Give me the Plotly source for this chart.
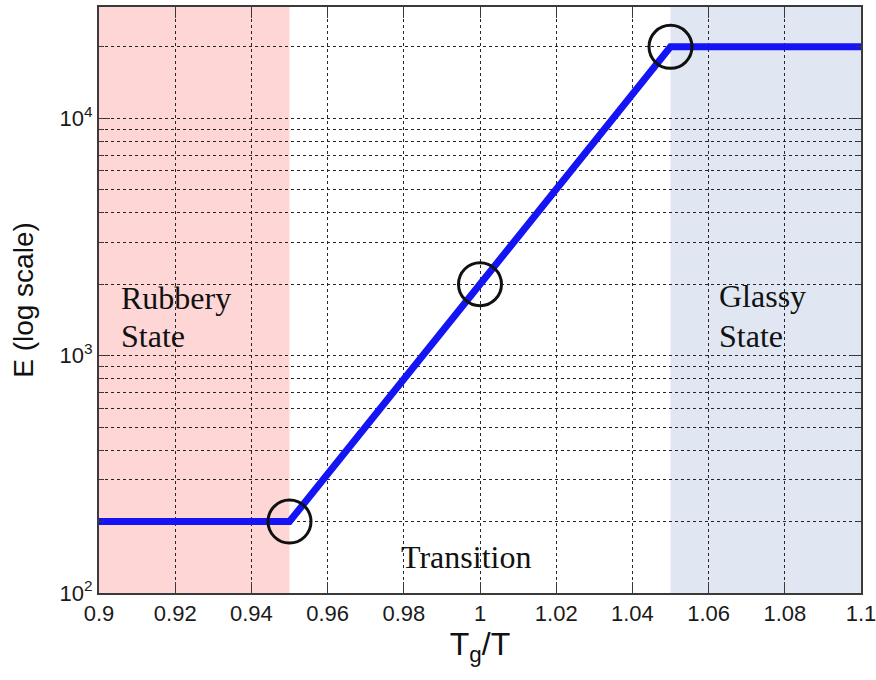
import plotly.graph_objects as go

# Modulus vs. normalised temperature (piecewise: rubbery plateau, transition, glassy plateau)
tg_over_t = [0.90, 0.95, 1.00, 1.05, 1.10]
modulus = [200, 200, 2000, 20000, 20000]

# Highlighted points on the curve
pt_x = [0.95, 1.00, 1.05]
pt_y = [200, 2000, 20000]

# Shaded regions (x-start, x-end, fill colour)
region_bounds = [(0.90, 0.95), (1.05, 1.10)]
region_colors = ["#FFD6D6", "#E0E7F3"]

x_ticks = [0.90, 0.92, 0.94, 0.96, 0.98, 1.00, 1.02, 1.04, 1.06, 1.08, 1.10]
x_tick_text = ["0.9", "0.92", "0.94", "0.96", "0.98", "1", "1.02", "1.04", "1.06", "1.08", "1.1"]
y_ticks = [100, 1000, 10000]
y_tick_text = ["10<sup>2</sup>", "10<sup>3</sup>", "10<sup>4</sup>"]
y_minor = [m * 10 ** d for d in (2, 3, 4) for m in range(2, 10) if m * 10 ** d <= 20000]

grid_col = "#262626"
axis_col = "#3a3a3a"

fig = go.Figure()

fig.add_trace(go.Scatter(
    x=tg_over_t, y=modulus, mode="lines",
    line=dict(color="#1414F5", width=7),
    showlegend=False, hoverinfo="skip",
))
fig.add_trace(go.Scatter(
    x=pt_x, y=pt_y, mode="markers",
    marker=dict(symbol="circle-open", size=43, color="#111111",
                line=dict(width=3, color="#111111")),
    showlegend=False, hoverinfo="skip",
))

for (x0, x1), col in zip(region_bounds, region_colors):
    fig.add_shape(type="rect", xref="x", yref="paper", x0=x0, x1=x1, y0=0, y1=1,
                  fillcolor=col, line_width=0, layer="below")

serif = dict(family="Liberation Serif, Times New Roman, serif", size=32, color="#111111")
labels = [
    ("Rubbery", 0.026, 0.503, "left"),
    ("State", 0.026, 0.438, "left"),
    ("Glassy", 0.811, 0.506, "left"),
    ("State", 0.811, 0.438, "left"),
    ("Transition", 0.482, 0.061, "center"),
]
for txt, px, py, anc in labels:
    fig.add_annotation(text=txt, xref="paper", yref="paper", x=px, y=py,
                       xanchor=anc, yanchor="middle", showarrow=False, font=serif)

sans = "Liberation Sans, Arial, sans-serif"
fig.update_layout(
    width=876, height=680,
    margin=dict(l=99, r=15, t=7, b=87),
    paper_bgcolor="white", plot_bgcolor="white",
    font=dict(family=sans, color="#111111"),
    xaxis=dict(
        range=[0.9, 1.1], tickvals=x_ticks, ticktext=x_tick_text,
        tickfont=dict(size=22, color="#1a1a1a"), automargin=False,
        ticklabeloverflow="allow",
        ticks="inside", ticklen=11, tickcolor=axis_col, tickwidth=1,
        showline=True, linecolor=axis_col, linewidth=2, mirror="allticks",
        showgrid=True, gridcolor=grid_col, gridwidth=1.2, griddash="3px,3px",
        zeroline=False,
        title=dict(text="T<sub>g</sub>/T", font=dict(size=32, color="#111111"), standoff=7),
    ),
    yaxis=dict(
        type="log", range=[2, 4.469], tickvals=y_ticks, ticktext=y_tick_text,
        tickfont=dict(size=22, color="#1a1a1a"), automargin=False,
        ticklabeloverflow="allow",
        ticks="inside", ticklen=11, tickcolor=axis_col, tickwidth=1,
        showline=True, linecolor=axis_col, linewidth=2, mirror="allticks",
        showgrid=True, gridcolor=grid_col, gridwidth=1.2, griddash="3px,3px",
        zeroline=False,
        minor=dict(tickmode="array", tickvals=y_minor, showgrid=True,
                   gridcolor=grid_col, gridwidth=1.2, griddash="3px,3px",
                   ticks="inside", ticklen=5, tickcolor=axis_col),
        title=dict(text="E (log scale)", font=dict(size=28, color="#111111"), standoff=18),
    ),
)

fig.write_html("out.html")
